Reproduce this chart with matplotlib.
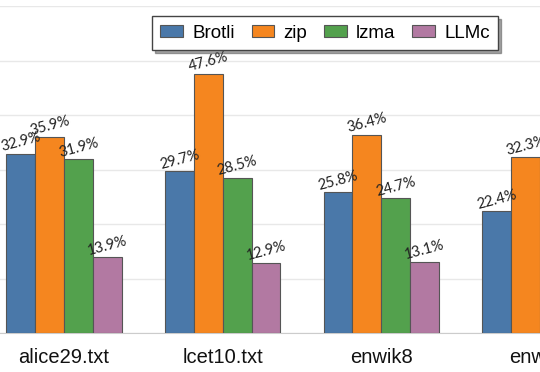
import numpy as np
import matplotlib
matplotlib.use("Agg")
import matplotlib.pyplot as plt

# data (enwik9 lzma / LLMc are outside the crop)
files = ["alice29.txt", "lcet10.txt", "enwik8", "enwik9"]
brotli = [32.9, 29.7, 25.8, 22.4]
zip_ = [35.9, 47.6, 36.4, 32.3]
lzma = [31.9, 28.5, 24.7, np.nan]
llmc = [13.9, 12.9, 13.1, np.nan]

series = [("Brotli", brotli, "#4a78a9"),
          ("zip", zip_, "#f5861f"),
          ("lzma", lzma, "#53a14d"),
          ("LLMc", llmc, "#b279a2")]

fig = plt.figure(figsize=(5.4, 3.72), dpi=100)
# axes run past the canvas edges: the reference is a crop of a bigger chart
ax = fig.add_axes([0, 39 / 372, 1, 327 / 372])

x = np.arange(len(files))
width = 0.182
for i, (name, vals, color) in enumerate(series):
    pos = x + (i - 1.5) * width
    ax.bar(pos, vals, width, color=color, edgecolor="#555555", linewidth=0.8,
           label=name, zorder=3)
    for px, v in zip(pos, vals):
        if np.isnan(v):
            continue
        ax.text(px, v - 0.1, f"{v}%", ha="center", va="bottom", rotation=15,
                fontsize=10.5, fontfamily="Lato", color="#222222", zorder=4)

ax.set_xlim(-65 / 161, 475 / 161)
ax.set_ylim(0, 60)
ax.set_yticks(np.arange(0, 61, 10))
ax.yaxis.grid(True, color="#e8e8e8", linewidth=1.0, zorder=0)
ax.tick_params(axis="y", left=False, labelleft=False)
ax.tick_params(axis="x", length=0, pad=11, labelsize=14.5, colors="#111111")
ax.set_xticks(x)
ax.set_xticklabels(files, fontfamily="Liberation Sans")
for s in ["left", "right", "top"]:
    ax.spines[s].set_visible(False)
ax.spines["bottom"].set_color("#cccccc")

fig.legend(loc="center", bbox_to_anchor=(325 / 540, 1 - 33 / 372), ncol=4,
           frameon=True, fancybox=False, shadow=True, edgecolor="#444444",
           prop={"family": "Liberation Sans", "size": 13.5},
           handlelength=1.2, handleheight=0.65, handletextpad=0.5,
           columnspacing=0.9, borderpad=0.45, borderaxespad=0)

fig.savefig("out.png", dpi=100)
